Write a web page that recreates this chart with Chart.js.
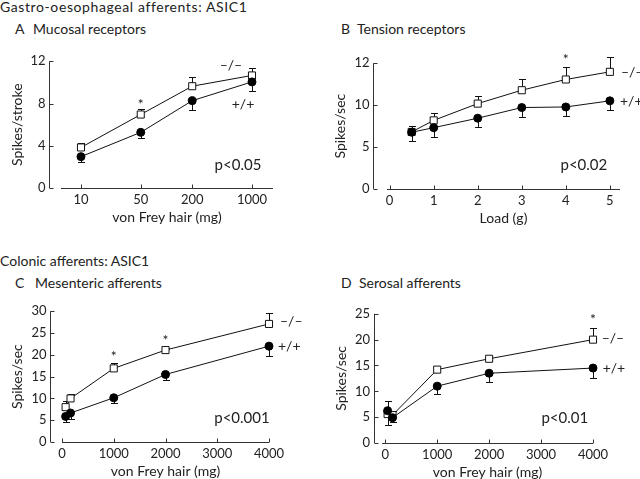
<!DOCTYPE html>
<html>
<head>
<meta charset="utf-8">
<script src="https://cdn.jsdelivr.net/npm/chart.js@4.4.1/dist/chart.umd.min.js"></script>
<style>
  html, body { margin: 0; padding: 0; background: #fff; overflow: hidden; width: 640px; height: 479px; }
  body { position: relative; font-family: Lato, sans-serif; color: #222; }
  .t { position: absolute; font-size: 14px; line-height: 14px; white-space: nowrap; }
  canvas { position: absolute; }
</style>
</head>
<body>
<div class="t" style="left:0px;top:0px;letter-spacing:0.6px">Gastro-oesophageal afferents: ASIC1</div>
<div class="t" style="left:15px;top:22px">A</div>
<div class="t" style="left:33px;top:22px">Mucosal receptors</div>
<div class="t" style="left:341px;top:22px">B</div>
<div class="t" style="left:357px;top:22px">Tension receptors</div>
<div class="t" style="left:0px;top:254px">Colonic afferents: ASIC1</div>
<div class="t" style="left:15px;top:276px">C</div>
<div class="t" style="left:35px;top:276px">Mesenteric afferents</div>
<div class="t" style="left:341px;top:276px">D</div>
<div class="t" style="left:359px;top:276px">Serosal afferents</div>

<canvas id="cA"></canvas>
<canvas id="cB"></canvas>
<canvas id="cC"></canvas>
<canvas id="cD"></canvas>

<script>
// --- A: mucosal receptors (spikes/stroke vs von Frey hair, log axis)
const aHair = [10, 50, 200, 1000];
const aKo = [3.84, 6.96, 9.64, 10.66];
const aKoErr = [0.4, 0.53, 0.9, 0.67];
const aWt = [2.97, 5.27, 8.27, 10.05];
const aWtErr = [0.52, 0.55, 0.87, 0.9];
const aXTicks = [10, 50, 200, 1000];
const aYTicks = [0, 4, 8, 12];
const aYLabels = ['0', '4', '8', '12'];

// --- B: tension receptors (spikes/sec vs load)
const bLoad = [0.5, 1, 2, 3, 4, 5];
const bKo = [6.81, 8.19, 10.19, 11.79, 13.07, 13.98];
const bKoErr = [0.65, 0.91, 0.91, 1.39, 1.53, 1.75];
const bWt = [6.77, 7.32, 8.45, 9.72, 9.79, 10.52];
const bWtErr = [1.05, 1.06, 1.1, 1.09, 1.09, 1.09];
const bXTicks = [0, 1, 2, 3, 4, 5];
const bYTicks = [0, 5, 10, 15];
const bYLabels = ['0', '5', '10', '12'];   // top label printed as 12 in the figure

// --- C: mesenteric afferents
const cHair = [70, 165, 1000, 2000, 4000];
const cKo = [8.0, 10.0, 16.9, 21.1, 27.1];
const cKoErr = [1.4, 1.1, 1.3, 0.4, 2.6];
const cWt = [5.87, 6.65, 10.15, 15.5, 22.0];
const cWtErr = [1.25, 1.3, 1.25, 1.3, 2.2];
const cXTicks = [0, 1000, 2000, 3000, 4000];
const cYTicks = [0, 5, 10, 15, 20, 25, 30];

// --- D: serosal afferents
const dHair = [45, 140, 1000, 2000, 4000];
const dKo = [5.6, 5.4, 14.2, 16.3, 20.0];
const dKoErr = [2.5, 0.7, 0.4, 0.6, 2.3];
const dWt = [6.25, 4.9, 11.0, 13.5, 14.5];
const dWtErr = [2.75, 0.8, 1.5, 1.7, 1.9];
const dXTicks = [0, 1000, 2000, 3000, 4000];
const dYTicks = [0, 5, 10, 15, 20, 25];

const FONT = 'Lato, sans-serif';
const INK = '#222';

// axis lines with inward ticks, error bars, and the text notes
const figPlugin = {
  id: 'fig',
  beforeDatasetsDraw(chart) {
    const o = chart.options.plugins.fig;
    const { ctx, chartArea: ca, scales: { x, y } } = chart;
    ctx.save();
    ctx.strokeStyle = '#333';
    ctx.lineWidth = 1;
    ctx.beginPath();
    const ax = Math.round(ca.left - o.gap) + 0.5;
    ctx.moveTo(ax, y.getPixelForValue(y.max));
    ctx.lineTo(ax, y.getPixelForValue(y.min));
    y.ticks.forEach(t => {
      const py = Math.round(y.getPixelForValue(t.value)) + 0.5;
      ctx.moveTo(ax, py); ctx.lineTo(ax + 4, py);
    });
    const by = Math.round(ca.bottom) + 0.5;
    ctx.moveTo(ca.left, by); ctx.lineTo(ca.right, by);
    x.ticks.forEach(t => {
      const px = Math.round(x.getPixelForValue(t.value)) + 0.5;
      ctx.moveTo(px, by); ctx.lineTo(px, by - 4);
    });
    ctx.stroke();

    // one-sided error bars: -/- up, +/+ down
    ctx.strokeStyle = '#111';
    ctx.beginPath();
    chart.data.datasets.forEach(ds => {
      ds.err.forEach((e, i) => {
        const pt = ds.data[i];
        const px = Math.round(x.getPixelForValue(pt.x)) + 0.5;
        const y0 = y.getPixelForValue(pt.y);
        const y1 = Math.round(y.getPixelForValue(pt.y + ds.dir * e)) + 0.5;
        ctx.moveTo(px, y0); ctx.lineTo(px, y1);
        ctx.moveTo(px - 3.5, y1); ctx.lineTo(px + 3.5, y1);
      });
    });
    ctx.stroke();
    ctx.restore();
  },
  afterDraw(chart) {
    const o = chart.options.plugins.fig;
    const { ctx, scales: { x, y } } = chart;
    ctx.save();
    ctx.fillStyle = INK;
    ctx.textBaseline = 'middle';
    o.notes.forEach(n => {
      ctx.font = (n.size || 14) + 'px ' + FONT;
      ctx.textAlign = n.align || 'center';
      ctx.fillText(n.text, x.getPixelForValue(n.x), y.getPixelForValue(n.y) + (n.dy || 0));
    });
    ctx.restore();
  }
};

function makePanel(p) {
  const padTop = 14, padRight = 42, xh = 40;
  const cv = document.getElementById(p.id);
  cv.width = p.R - p.L + p.yw + padRight;
  cv.height = p.B - p.T + padTop + xh;
  cv.style.left = (p.L - p.yw) + 'px';
  cv.style.top = (p.T - padTop) + 'px';

  const pts = (xs, ys) => xs.map((v, i) => ({ x: v, y: ys[i] }));

  new Chart(cv, {
    type: 'line',
    data: {
      datasets: [
        {
          label: '+/+', data: pts(p.x, p.wt), err: p.wtErr, dir: -1,
          borderColor: '#111', borderWidth: 1, tension: 0,
          pointStyle: 'circle', pointRadius: 4, pointBackgroundColor: '#000',
          pointBorderColor: '#000', pointBorderWidth: 1
        },
        {
          label: '-/-', data: pts(p.x, p.ko), err: p.koErr, dir: 1,
          borderColor: '#111', borderWidth: 1, tension: 0,
          pointStyle: 'rect', pointRadius: 5, pointBackgroundColor: '#fff',
          pointBorderColor: '#111', pointBorderWidth: 1
        }
      ]
    },
    options: {
      responsive: false,
      animation: false,
      clip: false,
      layout: { padding: { left: 0, top: padTop, right: padRight, bottom: 0 } },
      plugins: {
        legend: { display: false },
        tooltip: { enabled: false },
        fig: { gap: p.gap, notes: p.notes }
      },
      scales: {
        x: {
          type: p.xType, min: p.xMin, max: p.xMax,
          grid: { display: false, drawTicks: false }, border: { display: false },
          afterBuildTicks: s => { s.ticks = p.xTicks.map(v => ({ value: v })); },
          afterFit: s => { s.height = xh; },
          ticks: {
            autoSkip: false, maxRotation: 0, padding: 4, color: INK,
            font: { family: FONT, size: 13 },
            callback: (v, i) => String(p.xTicks[i])
          },
          title: {
            display: true, text: p.xTitle, color: INK,
            font: { family: FONT, size: 14 }, padding: { top: 0, bottom: 2 }
          }
        },
        y: {
          type: 'linear', min: 0, max: p.yMax,
          grid: { display: false, drawTicks: false }, border: { display: false },
          afterBuildTicks: s => { s.ticks = p.yTicks.map(v => ({ value: v })); },
          afterFit: s => { s.width = p.yw; },
          ticks: {
            autoSkip: false, padding: p.gap + 3.5, color: INK,
            font: { family: FONT, size: 13 },
            callback: (v, i) => p.yLabels[i]
          },
          title: {
            display: true, text: p.yTitle, color: INK,
            font: { family: FONT, size: 14 }, padding: { top: 2, bottom: 0 }
          }
        }
      }
    },
    plugins: [figPlugin]
  });
}

makePanel({
  id: 'cA', L: 61, T: 52, R: 273, B: 188, yw: 54, gap: 12,
  xType: 'logarithmic', xMin: 5.84, xMax: 1761, xTicks: aXTicks,
  yMax: 12, yTicks: aYTicks, yLabels: aYLabels,
  xTitle: 'von Frey hair (mg)', yTitle: 'Spikes/stroke',
  x: aHair, ko: aKo, koErr: aKoErr, wt: aWt, wtErr: aWtErr,
  notes: [
    { text: '*', x: 50, y: 8.2, dy: 3 },
    { text: '–/–', x: 567, y: 11.56 },
    { text: '+/+', x: 785, y: 7.94 },
    { text: 'p<0.05', x: 686, y: 2.2, size: 15 }
  ]
});

makePanel({
  id: 'cB', L: 387, T: 52, R: 620, B: 189, yw: 57, gap: 14,
  xType: 'linear', xMin: -0.06, xMax: 5.23, xTicks: bXTicks,
  yMax: 15, yTicks: bYTicks, yLabels: bYLabels,
  xTitle: 'Load (g)', yTitle: 'Spikes/sec',
  x: bLoad, ko: bKo, koErr: bKoErr, wt: bWt, wtErr: bWtErr,
  notes: [
    { text: '*', x: 4, y: 15.8, dy: 3 },
    { text: '–/–', x: 5.25, y: 13.9, align: 'left' },
    { text: '+/+', x: 5.23, y: 10.5, align: 'left' },
    { text: 'p<0.02', x: 4.41, y: 2.82, size: 15 }
  ]
});

makePanel({
  id: 'cC', L: 62, T: 302, R: 269, B: 442, yw: 55, gap: 12,
  xType: 'linear', xMin: 0, xMax: 4000, xTicks: cXTicks,
  yMax: 30, yTicks: cYTicks, yLabels: cYTicks.map(String),
  xTitle: 'von Frey hair (mg)', yTitle: 'Spikes/sec',
  x: cHair, ko: cKo, koErr: cKoErr, wt: cWt, wtErr: cWtErr,
  notes: [
    { text: '*', x: 1000, y: 20.3, dy: 3 },
    { text: '*', x: 2000, y: 24.1, dy: 3 },
    { text: '–/–', x: 4212, y: 27.6, align: 'left' },
    { text: '+/+', x: 4173, y: 22.0, align: 'left' },
    { text: 'p<0.001', x: 3478, y: 5.36, size: 15 }
  ]
});

makePanel({
  id: 'cD', L: 382, T: 308, R: 593, B: 443, yw: 51, gap: 8.5,
  xType: 'linear', xMin: -63, xMax: 4000, xTicks: dXTicks,
  yMax: 25, yTicks: dYTicks, yLabels: dYTicks.map(String),
  xTitle: 'von Frey hair (mg)', yTitle: 'Spikes/sec',
  x: dHair, ko: dKo, koErr: dKoErr, wt: dWt, wtErr: dWtErr,
  notes: [
    { text: '*', x: 4000, y: 24.4, dy: 3 },
    { text: '–/–', x: 4167, y: 20.2, align: 'left' },
    { text: '+/+', x: 4186, y: 14.5, align: 'left' },
    { text: 'p<0.01', x: 3456, y: 4.8, size: 15 }
  ]
});
</script>
</body>
</html>
